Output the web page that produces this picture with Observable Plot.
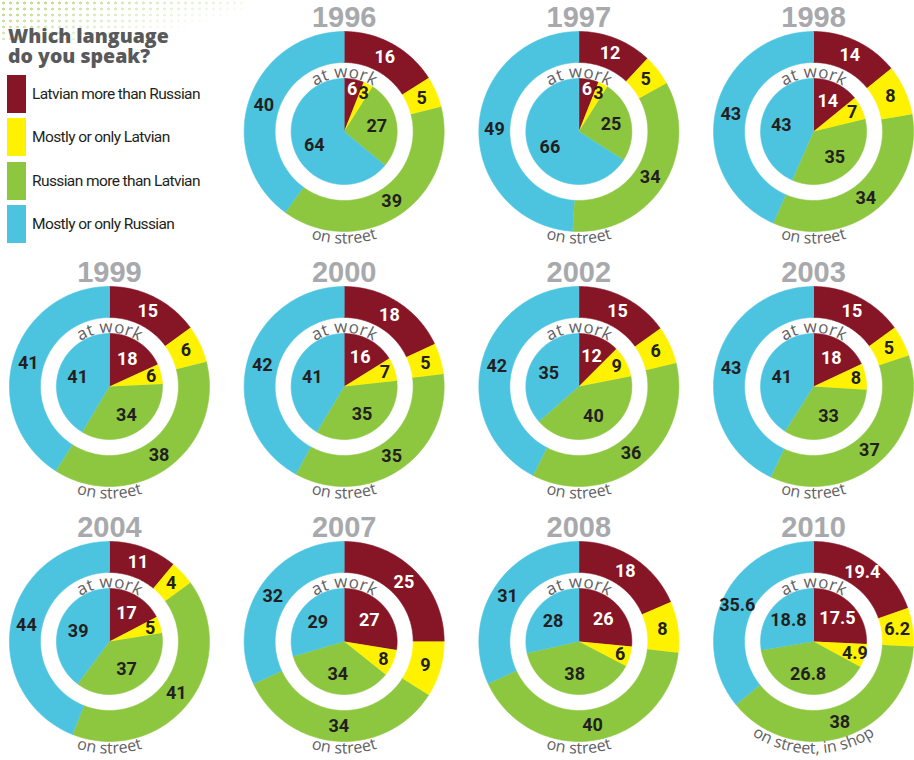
<!DOCTYPE html>
<html><head><meta charset="utf-8">
<script src="https://cdn.jsdelivr.net/npm/d3@7"></script>
<script src="https://cdn.jsdelivr.net/npm/@observablehq/plot@0.6"></script>
<style>
body{margin:0;background:#fff;}
#wrap{position:relative;width:914px;height:760px;overflow:hidden;}
#dots{position:absolute;left:0;top:0;width:245px;height:40px;z-index:1;
 background-image:radial-gradient(circle,#c3df95 1.3px,transparent 1.7px);background-size:7px 6px;
 -webkit-mask-image:linear-gradient(165deg,rgba(0,0,0,1) 15%,rgba(0,0,0,0) 75%);mask-image:linear-gradient(165deg,rgba(0,0,0,1) 15%,rgba(0,0,0,0) 75%);}
#legend{position:absolute;left:0;top:0;z-index:2;}
#legend .title{position:absolute;left:8px;font-family:"Open Sans","Noto Sans",sans-serif;font-weight:800;font-size:19.5px;line-height:19px;height:19px;color:#58595b;white-space:nowrap;}
#legend .sw{position:absolute;left:7px;width:19px;height:38px;}
#legend .lab{position:absolute;left:32px;font-family:"Roboto","Noto Sans",sans-serif;font-size:15.5px;letter-spacing:-0.6px;color:#231f20;white-space:nowrap;line-height:38px;}
g[aria-label="value labels"] text{letter-spacing:-0.6px;}
</style></head>
<body>
<div id="wrap"><div id="dots"></div><div id="legend"></div><div id="chart"></div></div>
<script>
const years = ["1996","1997","1998","1999","2000","2002","2003","2004","2007","2008","2010"];
const categories = ["Latvian more than Russian","Mostly or only Latvian","Russian more than Latvian","Mostly or only Russian"];
const colors = ["#861626","#fff200","#8dc63f","#4cc4e0"];
const streetLabels = ["on street","on street","on street","on street","on street","on street","on street","on street","on street","on street","on street, in shop"];
const workLabel = "at work";
const titleLines = ["Which language", "do you speak?"];

// on street (outer ring)
const streetLatvianMore = [16,12,14,15,18,15,15,11,25,18,19.4];
const streetLatvianOnly = [5,5,8,6,5,6,5,4,9,8,6.2];
const streetRussianMore = [39,34,34,38,35,36,37,41,34,40,38];
const streetRussianOnly = [40,49,43,41,42,42,43,44,32,31,35.6];
// at work (inner pie)
const workLatvianMore = [6,6,14,18,16,12,18,17,27,26,17.5];
const workLatvianOnly = [3,3,7,6,7,9,8,5,8,6,4.9];
const workRussianMore = [27,25,35,34,35,40,33,37,34,38,26.8];
const workRussianOnly = [64,66,43,41,41,35,41,39,29,28,18.8];

const street = [streetLatvianMore, streetLatvianOnly, streetRussianMore, streetRussianOnly];
const work = [workLatvianMore, workLatvianOnly, workRussianMore, workRussianOnly];

// geometry (pixels)
const R_OUT = 100, R_RING = 69, R_PIE = 53;
const numFont = "Roboto,'Noto Sans',sans-serif";
const curveFont = "'Open Sans','Noto Sans',sans-serif";
const yearFont = "'Liberation Sans',Arimo,sans-serif";
const workSize = 17, streetSize = 16;

const polys = [], labels = [], titles = [], curvedWork = [], curvedStreet = [];
const canvas = document.createElement("canvas").getContext("2d");

function arcText(out, str, size, rBase, top, fx, fy, track) {
  canvas.font = `${size}px ${curveFont}`;
  const widths = Array.from(str, ch => canvas.measureText(ch).width + track);
  const total = d3.sum(widths);
  let cum = -total / 2;
  const rp = top ? rBase + 0.32 * size : rBase - 0.32 * size;
  Array.from(str).forEach((ch, k) => {
    const a = (cum + widths[k] / 2) / rBase;
    cum += widths[k];
    if (ch === " ") return;
    if (top) out.push({ch, fx, fy, x: rp * Math.sin(a), y: rp * Math.cos(a), rot: a * 180 / Math.PI});
    else out.push({ch, fx, fy, x: rp * Math.sin(a), y: -rp * Math.cos(a), rot: -a * 180 / Math.PI});
  });
}

years.forEach((year, i) => {
  const slot = i + 1, fx = slot % 4, fy = Math.floor(slot / 4);
  titles.push({year, fx, fy, x: 0, y: 113.3});
  const rings = [
    {ring: "street", vals: street.map(s => s[i]), r0: R_RING, r1: R_OUT},
    {ring: "work", vals: work.map(s => s[i]), r0: 0, r1: R_PIE}
  ];
  for (const {ring, vals, r0, r1} of rings) {
    const tot = d3.sum(vals);
    let acc = 0;
    vals.forEach((v, c) => {
      const a0 = acc / tot * 2 * Math.PI; acc += v;
      const a1 = acc / tot * 2 * Math.PI;
      const id = `${year}-${ring}-${c}`;
      const n = Math.max(2, Math.ceil((a1 - a0) / (Math.PI / 180)));
      for (let k = 0; k <= n; k++) {
        const a = a0 + (a1 - a0) * k / n;
        polys.push({id, cat: categories[c], fx, fy, x: r1 * Math.sin(a), y: r1 * Math.cos(a)});
      }
      if (r0 === 0) polys.push({id, cat: categories[c], fx, fy, x: 0, y: 0});
      else for (let k = n; k >= 0; k--) {
        const a = a0 + (a1 - a0) * k / n;
        polys.push({id, cat: categories[c], fx, fy, x: r0 * Math.sin(a), y: r0 * Math.cos(a)});
      }
      const am = (a0 + a1) / 2;
      const share = v / tot;
      const rl = ring === "street" ? (R_RING + R_OUT) / 2 : (share < 0.1 ? 43 : 33);
      labels.push({text: String(v), fx, fy, x: rl * Math.sin(am), y: rl * Math.cos(am), white: c === 0});
    });
  }
  arcText(curvedWork, workLabel, workSize, 54, true, fx, fy, 0.4);
  arcText(curvedStreet, streetLabels[i], streetSize, 112, false, fx, fy, 0);
});

const chart = Plot.plot({
  width: 914, height: 760,
  marginTop: 0, marginRight: 0, marginBottom: 0, marginLeft: 0,
  fx: {domain: [0,1,2,3], range: [-8.4, 930.4], padding: 0, axis: null, round: false},
  fy: {domain: [0,1,2], range: [3.5, 768.5], padding: 0, axis: null, round: false},
  x: {domain: [-117.35, 117.35], axis: null},
  y: {domain: [-127.5, 127.5], axis: null},
  color: {domain: categories, range: colors},
  marks: [
    Plot.line(polys, {x: "x", y: "y", z: "id", fx: "fx", fy: "fy", fill: "cat", stroke: "cat", strokeWidth: 0.6, curve: "linear"}),
    Plot.text(labels.filter(d => d.white), {x: "x", y: "y", text: "text", fx: "fx", fy: "fy", fill: "white", fontSize: 18, fontWeight: "bold", fontFamily: numFont, ariaLabel: "value labels"}),
    Plot.text(labels.filter(d => !d.white), {x: "x", y: "y", text: "text", fx: "fx", fy: "fy", fill: "#231f20", fontSize: 18, fontWeight: "bold", fontFamily: numFont, ariaLabel: "value labels"}),
    Plot.text(titles, {x: "x", y: "y", text: "year", fx: "fx", fy: "fy", fill: "#a7a9ac", fontSize: 29, fontWeight: "bold", fontFamily: yearFont}),
    Plot.text(curvedWork, {x: "x", y: "y", text: "ch", rotate: "rot", fx: "fx", fy: "fy", fill: "#5f6063", fontSize: workSize, fontFamily: curveFont}),
    Plot.text(curvedStreet, {x: "x", y: "y", text: "ch", rotate: "rot", fx: "fx", fy: "fy", fill: "#5f6063", fontSize: streetSize, fontFamily: curveFont})
  ]
});
document.getElementById("chart").appendChild(chart);

// legend (HTML, placed in the empty top-left cell)
const legend = document.getElementById("legend");
titleLines.forEach((line, k) => {
  const t = document.createElement("div");
  t.className = "title"; t.style.top = (26 + k * 20) + "px"; t.textContent = line;
  legend.appendChild(t);
});
categories.forEach((c, k) => {
  const top = 75 + k * 43.4;
  const sw = document.createElement("div");
  sw.className = "sw"; sw.style.top = top + "px"; sw.style.background = colors[k];
  const lb = document.createElement("div");
  lb.className = "lab"; lb.style.top = top + "px"; lb.textContent = c;
  legend.appendChild(sw); legend.appendChild(lb);
});
</script>
</body></html>
